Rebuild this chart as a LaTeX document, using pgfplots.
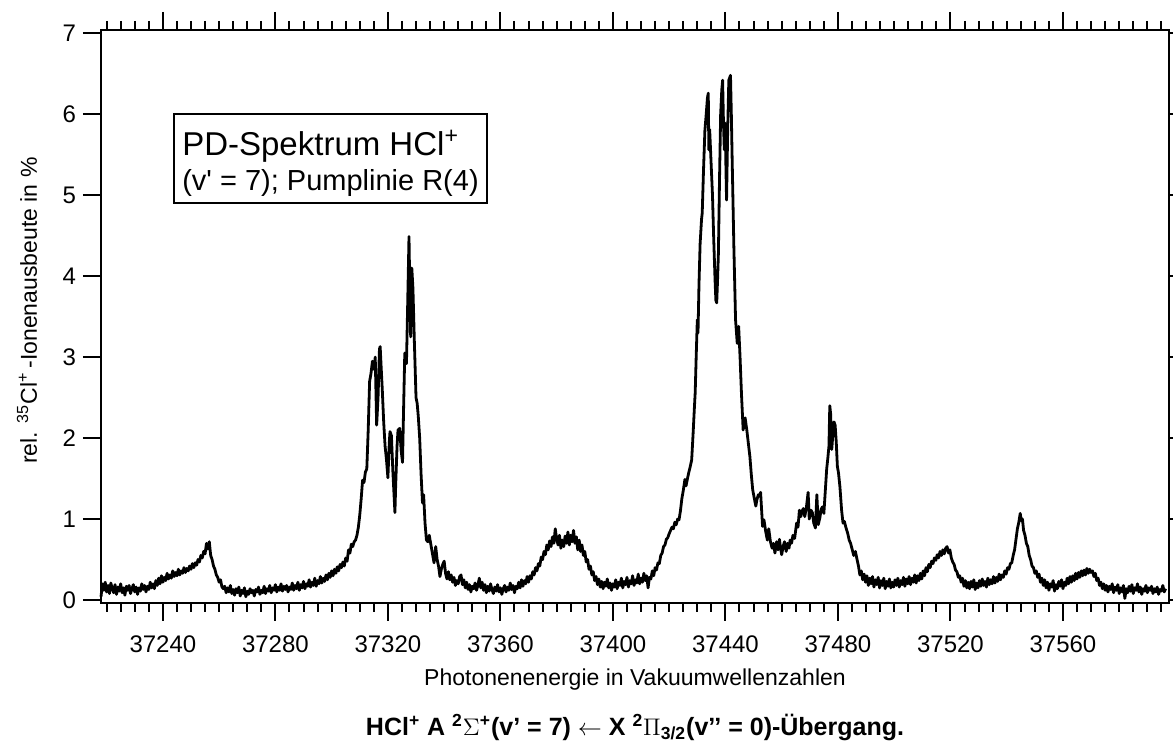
\documentclass[border=0pt]{standalone}
\usepackage{fontspec}
\setmainfont{Liberation Sans}
\usepackage{pgfplots}
\pgfplotsset{compat=1.18}
\begin{document}
\begin{tikzpicture}
\begin{axis}[
  scale only axis, width=534pt, height=286.35pt,
  xmin=37218, xmax=37597.7, ymin=-0.033, ymax=7.04,
  xtick={37240,37280,37320,37360,37400,37440,37480,37520,37560},
  xticklabels={37240,37280,37320,37360,37400,37440,37480,37520,37560},
  minor xtick={37220,37225,...,37595},
  ytick={0,1,...,7},
  scaled x ticks=false,
  tick align=outside, major tick length=9pt, minor tick length=4.5pt,
  xtick pos=both, ytick pos=both,
  xticklabel pos=lower, yticklabel pos=left,
  axis line style={line width=1pt},
  every tick/.style={black, line width=1pt},
  tick label style={font=\fontsize{12}{14}\selectfont},
  xticklabel style={yshift=-4pt},
  /pgf/number format/assume math mode=true,
  /pgf/number format/1000 sep={},
  xlabel={Photonenenergie in Vakuumwellenzahlen},
  xlabel style={at={(axis description cs:0.5,-0.144)}, anchor=base, font=\fontsize{11.5}{14}\selectfont},
  ylabel={rel. \textsuperscript{35}Cl\textsuperscript{+}\,-Ionenausbeute in \%},
  ylabel style={at={(axis description cs:-0.06,0.51)}, anchor=base, rotate=0, font=\fontsize{11.5}{14}\selectfont},
  clip=false,
]
\addplot[black, line width=1.4pt, line join=round] coordinates {
(37218.0,0.04)(37218.5,0.20)(37219.0,0.12)(37219.5,0.22)(37220.0,0.10)(37220.5,0.18)(37221.0,0.08)(37221.5,0.21)
(37222.0,0.14)(37222.5,0.09)(37223.0,0.19)(37223.5,0.07)(37224.0,0.16)(37224.5,0.11)(37225.0,0.20)(37225.5,0.09)
(37226.0,0.15)(37226.5,0.06)(37227.0,0.17)(37227.5,0.12)(37228.0,0.18)(37228.5,0.08)(37229.0,0.14)(37229.5,0.19)
(37230.0,0.10)(37230.5,0.16)(37231.0,0.07)(37231.5,0.15)(37232.0,0.11)(37232.5,0.20)(37233.0,0.13)(37233.5,0.18)
(37234.0,0.10)(37234.5,0.17)(37235.0,0.13)(37235.5,0.22)(37236.0,0.15)
(37236.5,0.20)(37237.0,0.14)(37237.5,0.24)(37238.0,0.18)(37238.5,0.27)(37239.0,0.20)(37239.5,0.30)(37240.0,0.22)
(37240.5,0.28)(37241.0,0.24)(37241.5,0.33)(37242.0,0.26)(37242.5,0.31)(37243.0,0.27)(37243.5,0.36)(37244.0,0.29)
(37244.5,0.34)(37245.0,0.30)(37245.5,0.38)(37246.0,0.31)(37246.5,0.36)(37247.0,0.33)(37247.5,0.40)(37248.0,0.34)
(37248.5,0.39)(37249.0,0.36)(37249.5,0.42)(37250.0,0.38)(37250.5,0.45)(37251.0,0.40)(37251.5,0.46)(37252.0,0.43)
(37252.5,0.50)(37253.0,0.47)(37253.5,0.55)(37254.0,0.52)(37254.5,0.60)(37255.0,0.57)(37255.5,0.70)(37256.0,0.63)
(37256.5,0.72)(37257.0,0.55)(37257.5,0.50)(37258.0,0.42)(37258.5,0.38)(37259.0,0.31)(37259.5,0.28)(37260.0,0.22)
(37260.5,0.25)(37261.0,0.16)(37261.5,0.14)
(37262.0,0.17)(37262.5,0.09)(37263.0,0.15)(37263.5,0.10)(37264.0,0.18)(37264.5,0.08)(37265.0,0.13)(37265.5,0.06)
(37266.0,0.14)(37266.5,0.09)(37267.0,0.16)(37267.5,0.05)(37268.0,0.12)(37268.5,0.08)(37269.0,0.15)(37269.5,0.04)
(37270.0,0.11)(37270.5,0.07)(37271.0,0.14)(37271.5,0.09)(37272.0,0.12)(37272.5,0.05)(37273.0,0.13)(37273.5,0.10)
(37274.0,0.16)(37274.5,0.07)(37275.0,0.12)(37275.5,0.09)(37276.0,0.17)(37276.5,0.08)(37277.0,0.14)(37277.5,0.11)
(37278.0,0.18)(37278.5,0.09)(37279.0,0.15)(37279.5,0.12)(37280.0,0.19)(37280.5,0.10)(37281.0,0.16)(37281.5,0.12)
(37282.0,0.20)(37282.5,0.11)(37283.0,0.17)(37283.5,0.13)(37284.0,0.18)(37284.5,0.10)(37285.0,0.16)(37285.5,0.13)
(37286.0,0.21)(37286.5,0.12)(37287.0,0.18)(37287.5,0.14)(37288.0,0.22)(37288.5,0.12)(37289.0,0.19)(37289.5,0.15)
(37290.0,0.23)(37290.5,0.14)(37291.0,0.20)(37291.5,0.17)(37292.0,0.25)(37292.5,0.16)(37293.0,0.22)(37293.5,0.18)
(37294.0,0.27)(37294.5,0.17)(37295.0,0.24)(37295.5,0.20)(37296.0,0.29)(37296.5,0.21)(37297.0,0.27)(37297.5,0.23)
(37298.0,0.31)(37298.5,0.25)(37299.0,0.33)(37299.5,0.28)(37300.0,0.36)(37300.5,0.30)(37301.0,0.38)(37301.5,0.33)
(37302.0,0.41)(37302.5,0.36)(37303.0,0.44)(37303.5,0.40)(37304.0,0.47)(37304.5,0.42)(37305.0,0.52)(37305.5,0.48)
(37306.0,0.62)(37306.5,0.58)(37307.0,0.69)(37307.5,0.66)(37308.0,0.72)(37308.5,0.74)(37309.0,0.80)(37309.5,0.90)
(37310.0,1.05)(37310.5,1.25)(37311.0,1.48)(37311.5,1.45)(37312.0,1.58)(37312.5,1.62)
(37313.0,2.10)(37313.5,2.70)(37314.0,2.80)(37314.5,2.95)(37315.0,2.85)(37315.5,3.00)(37316.0,2.16)(37316.5,2.50)
(37317.0,3.10)(37317.25,3.13)(37317.5,2.95)(37318.0,2.60)(37318.5,2.20)(37319.0,1.90)(37319.5,1.73)(37320.0,1.51)
(37320.5,1.95)(37320.75,2.08)(37321.25,2.03)(37321.75,1.60)(37322.25,1.25)(37322.5,1.08)(37322.75,1.40)(37323.25,1.90)
(37323.6,2.10)(37324.2,2.12)(37324.7,1.85)(37325.2,1.70)(37325.6,2.40)(37326.0,3.05)(37326.6,2.92)(37327.0,3.60)
(37327.5,4.49)(37327.8,3.80)(37328.1,3.25)(37328.5,4.10)(37328.9,3.85)(37329.4,3.20)(37330.0,2.50)(37330.4,2.43)
(37330.8,2.27)(37331.3,2.00)(37331.8,1.55)(37332.3,1.20)(37332.7,1.30)(37333.2,0.95)(37333.7,0.74)(37334.2,0.72)
(37334.7,0.80)(37335.2,0.70)(37335.8,0.58)(37336.4,0.46)(37337.0,0.66)(37337.5,0.50)(37338.0,0.42)(37338.5,0.29)
(37339.0,0.38)(37339.5,0.44)(37340.0,0.48)(37340.5,0.33)(37341.0,0.26)(37341.5,0.35)(37342.0,0.25)(37342.5,0.31)
(37343.0,0.22)(37343.5,0.28)(37344.0,0.18)(37344.5,0.24)(37345.0,0.20)(37345.5,0.29)(37346.0,0.31)(37346.5,0.19)
(37347.0,0.25)(37347.5,0.15)(37348.0,0.22)(37348.5,0.13)(37349.0,0.19)(37349.5,0.10)(37350.0,0.17)(37350.5,0.14)
(37351.0,0.21)(37351.5,0.12)(37352.0,0.18)(37352.5,0.27)
(37353.0,0.15)(37353.5,0.22)(37354.0,0.12)(37354.5,0.19)(37355.0,0.09)(37355.5,0.17)(37356.0,0.11)(37356.5,0.20)
(37357.0,0.13)(37357.5,0.08)(37358.0,0.16)(37358.5,0.11)(37359.0,0.19)(37359.5,0.10)(37360.0,0.15)(37360.5,0.07)
(37361.0,0.14)(37361.5,0.18)(37362.0,0.10)(37362.5,0.16)(37363.0,0.12)(37363.5,0.21)(37364.0,0.13)(37364.5,0.18)
(37365.0,0.09)(37365.5,0.17)(37366.0,0.14)(37366.5,0.22)(37367.0,0.15)(37367.5,0.25)(37368.0,0.17)(37368.5,0.24)
(37369.0,0.20)(37369.5,0.29)(37370.0,0.22)(37370.5,0.30)(37371.0,0.26)(37371.5,0.35)(37372.0,0.31)(37372.5,0.40)
(37373.0,0.36)(37373.5,0.45)(37374.0,0.42)(37374.5,0.53)(37375.0,0.50)(37375.5,0.60)(37376.0,0.56)(37376.5,0.68)
(37377.0,0.62)(37377.5,0.73)(37378.0,0.66)(37378.5,0.78)(37379.0,0.70)(37379.5,0.88)(37380.0,0.75)(37380.5,0.68)
(37381.0,0.80)(37381.5,0.64)(37382.0,0.74)(37382.5,0.66)(37383.0,0.79)(37383.5,0.70)(37384.0,0.84)(37384.5,0.68)
(37385.0,0.80)(37385.5,0.72)(37386.0,0.86)(37386.5,0.70)(37387.0,0.78)(37387.5,0.62)(37388.0,0.74)(37388.5,0.60)
(37389.0,0.68)(37389.5,0.55)(37390.0,0.60)(37390.5,0.47)(37391.0,0.50)(37391.5,0.38)(37392.0,0.42)(37392.5,0.31)
(37393.0,0.35)(37393.5,0.24)(37394.0,0.29)
(37394.5,0.19)(37395.0,0.26)(37395.5,0.16)(37396.0,0.23)(37396.5,0.14)(37397.0,0.22)(37397.5,0.17)(37398.0,0.26)
(37398.5,0.15)(37399.0,0.21)(37399.5,0.12)(37400.0,0.20)(37400.5,0.16)(37401.0,0.25)(37401.5,0.14)(37402.0,0.22)
(37402.5,0.18)(37403.0,0.27)(37403.5,0.15)(37404.0,0.23)(37404.5,0.19)(37405.0,0.28)(37405.5,0.16)(37406.0,0.24)
(37406.5,0.20)(37407.0,0.30)(37407.5,0.18)(37408.0,0.25)(37408.5,0.21)(37409.0,0.32)(37409.5,0.20)(37410.0,0.27)
(37410.5,0.22)(37411.0,0.33)(37411.5,0.24)(37412.0,0.30)(37412.5,0.15)(37413.0,0.28)(37413.5,0.26)(37414.0,0.36)
(37414.5,0.30)(37415.0,0.40)(37415.5,0.37)(37416.0,0.46)(37416.5,0.45)(37417.0,0.55)(37417.5,0.58)(37418.0,0.66)
(37418.5,0.68)(37419.0,0.75)(37419.5,0.77)(37420.0,0.82)(37420.5,0.86)(37421.0,0.90)(37421.5,0.88)(37422.0,0.96)
(37422.5,0.93)(37423.0,1.00)(37423.5,0.99)
(37424.0,1.10)(37424.5,1.25)(37425.0,1.35)(37425.6,1.49)(37426.0,1.41)(37426.5,1.50)(37427.0,1.58)(37427.5,1.65)
(37428.0,1.73)(37428.5,2.05)(37429.0,2.40)(37429.25,2.56)(37429.6,3.00)(37430.0,3.46)(37430.25,3.30)(37430.6,3.90)
(37431.0,4.40)(37431.5,4.70)(37431.75,4.78)(37432.2,5.30)(37432.7,5.80)(37433.1,5.97)(37433.6,6.20)(37433.9,6.26)
(37434.1,5.56)(37434.4,5.81)(37434.9,5.40)(37435.4,5.00)(37435.8,4.50)(37436.3,3.96)(37436.6,3.70)(37436.9,3.67)
(37437.2,3.95)(37437.5,4.28)(37437.9,5.20)(37438.3,6.00)(37438.7,6.30)(37439.0,6.42)(37439.3,5.90)(37439.6,5.56)
(37439.9,5.89)(37440.2,5.30)(37440.4,4.94)(37440.8,5.80)(37441.2,6.42)(37441.8,6.48)(37442.1,6.00)(37442.4,5.43)
(37443.0,4.36)(37443.6,3.46)(37444.2,3.17)(37444.7,3.38)(37445.2,3.00)(37445.7,2.55)(37446.3,2.10)(37447.0,2.25)
(37447.6,2.10)(37448.1,1.95)(37448.7,1.77)(37449.2,1.55)(37449.7,1.36)(37450.3,1.25)(37450.8,1.16)(37451.2,1.24)
(37451.7,1.30)(37452.2,1.29)(37452.5,1.33)(37453.2,0.91)(37453.7,0.99)(37454.3,0.85)(37454.9,0.74)(37455.4,0.88)
(37456.0,0.72)(37456.6,0.64)(37457.1,0.70)(37457.6,0.58)(37458.2,0.72)(37458.7,0.62)(37459.2,0.75)(37459.6,0.64)
(37460.0,0.56)(37460.5,0.66)(37461.0,0.72)(37461.6,0.60)(37462.1,0.70)(37462.6,0.64)(37463.0,0.74)(37463.5,0.70)
(37464.0,0.80)(37464.6,0.76)(37465.3,0.95)(37465.8,0.90)(37466.3,1.11)(37466.8,1.03)(37467.3,1.10)(37467.7,1.13)
(37468.2,1.03)(37468.8,1.15)(37469.4,1.33)(37469.8,1.00)(37470.4,1.11)(37470.9,1.08)(37471.4,0.95)(37472.0,0.89)
(37472.5,1.30)(37473.0,0.93)(37473.6,1.02)(37474.0,1.12)(37474.5,1.15)(37475.0,1.07)(37475.6,1.40)(37476.0,1.62)
(37476.4,1.75)(37476.8,1.90)(37477.1,2.40)(37477.4,2.30)(37477.8,1.86)(37478.2,2.05)(37478.6,2.20)(37479.0,2.16)
(37479.4,1.95)(37479.8,1.65)(37480.2,1.57)(37480.7,1.40)(37481.3,1.11)(37481.8,0.95)(37482.3,0.97)(37482.8,0.90)
(37483.5,0.82)(37484.0,0.74)(37484.5,0.70)(37485.1,0.62)(37485.6,0.55)(37486.2,0.60)(37486.8,0.50)
(37487.3,0.42)(37487.8,0.31)(37488.3,0.36)(37488.8,0.25)(37489.3,0.32)(37489.8,0.22)(37490.3,0.30)(37490.8,0.18)
(37491.3,0.27)(37491.8,0.20)(37492.3,0.29)(37492.8,0.16)(37493.3,0.25)(37493.8,0.19)(37494.3,0.28)(37494.8,0.15)
(37495.3,0.24)(37495.8,0.18)(37496.3,0.27)(37496.8,0.14)(37497.3,0.23)(37497.8,0.17)(37498.3,0.26)(37498.8,0.15)
(37499.3,0.22)(37499.8,0.16)(37500.3,0.25)(37500.8,0.18)(37501.3,0.27)(37501.8,0.16)(37502.3,0.24)(37502.8,0.19)
(37503.3,0.28)(37503.8,0.17)(37504.3,0.26)(37504.8,0.20)(37505.3,0.29)(37505.8,0.19)(37506.3,0.27)(37506.8,0.22)
(37507.3,0.31)(37507.8,0.21)(37508.3,0.30)(37508.8,0.24)(37509.3,0.33)(37509.8,0.26)(37510.3,0.36)(37510.8,0.30)
(37511.3,0.40)(37511.8,0.35)
(37512.3,0.44)(37512.8,0.40)(37513.3,0.48)(37513.8,0.45)(37514.3,0.52)(37514.8,0.49)(37515.3,0.56)(37515.8,0.52)
(37516.3,0.60)(37516.8,0.55)(37517.3,0.62)(37517.8,0.57)(37518.3,0.64)(37518.8,0.66)(37519.3,0.58)(37519.8,0.62)
(37520.3,0.52)(37520.8,0.47)(37521.3,0.44)(37521.8,0.37)(37522.3,0.35)(37522.8,0.28)(37523.3,0.30)(37523.8,0.22)
(37524.3,0.27)(37524.8,0.17)(37525.3,0.24)(37525.8,0.15)(37526.3,0.22)(37526.8,0.14)(37527.3,0.23)(37527.8,0.16)
(37528.3,0.25)(37528.8,0.13)(37529.3,0.21)(37529.8,0.15)(37530.3,0.24)(37530.8,0.17)(37531.3,0.26)(37531.8,0.18)
(37532.3,0.23)(37532.8,0.16)(37533.3,0.27)(37533.8,0.19)(37534.3,0.25)(37534.8,0.20)(37535.3,0.29)(37535.8,0.21)
(37536.3,0.28)(37536.8,0.23)(37537.3,0.32)(37537.8,0.25)(37538.3,0.31)(37538.8,0.28)(37539.3,0.36)(37539.8,0.32)
(37540.3,0.40)(37540.8,0.38)
(37541.3,0.45)(37541.8,0.46)(37542.3,0.55)(37542.8,0.62)(37543.3,0.75)(37543.8,0.88)(37544.3,0.96)(37544.8,1.07)
(37545.2,0.98)(37545.6,1.00)(37546.0,0.86)(37546.5,0.80)(37547.0,0.70)(37547.5,0.66)(37548.0,0.55)(37548.5,0.50)
(37549.0,0.42)(37549.5,0.40)(37550.0,0.33)(37550.5,0.36)(37551.0,0.28)
(37551.5,0.32)(37552.0,0.22)(37552.5,0.27)(37553.0,0.18)(37553.5,0.25)(37554.0,0.15)(37554.5,0.22)(37555.0,0.12)
(37555.5,0.20)(37556.0,0.16)(37556.5,0.24)(37557.0,0.11)(37557.5,0.19)(37558.0,0.14)(37558.5,0.23)(37559.0,0.17)
(37559.5,0.25)(37560.0,0.14)(37560.5,0.22)(37561.0,0.18)(37561.5,0.27)(37562.0,0.20)(37562.5,0.29)(37563.0,0.22)
(37563.5,0.30)(37564.0,0.24)(37564.5,0.33)(37565.0,0.26)(37565.5,0.34)(37566.0,0.28)(37566.5,0.36)(37567.0,0.30)
(37567.5,0.37)(37568.0,0.31)(37568.5,0.39)(37569.0,0.33)(37569.5,0.38)(37570.0,0.34)(37570.5,0.36)(37571.0,0.29)
(37571.5,0.33)(37572.0,0.24)(37572.5,0.27)(37573.0,0.18)(37573.5,0.22)(37574.0,0.14)(37574.5,0.20)(37575.0,0.12)
(37575.5,0.18)(37576.0,0.10)(37576.5,0.17)(37577.0,0.13)(37577.5,0.20)(37578.0,0.09)(37578.5,0.16)(37579.0,0.12)
(37579.5,0.19)(37580.0,0.08)(37580.5,0.15)(37581.0,0.10)(37581.5,0.18)(37582.0,0.02)(37582.5,0.14)(37583.0,0.09)
(37583.5,0.17)(37584.0,0.11)(37584.5,0.19)(37585.0,0.08)(37585.5,0.15)(37586.0,0.12)(37586.5,0.20)(37587.0,0.10)
(37587.5,0.16)(37588.0,0.07)(37588.5,0.14)(37589.0,0.11)(37589.5,0.18)(37590.0,0.09)(37590.5,0.15)(37591.0,0.12)
(37591.5,0.17)(37592.0,0.08)(37592.5,0.14)(37593.0,0.10)(37593.5,0.16)(37594.0,0.07)(37594.5,0.13)(37595.0,0.11)
(37595.5,0.18)(37596.0,0.10)(37596.5,0.14)
};
\node[draw, line width=1pt, fill=white, anchor=north west, align=left, inner xsep=4pt, inner ysep=3pt,
      font=\fontsize{14.5}{17.5}\selectfont] at (rel axis cs:0.0677,0.8556)
  {{\fontsize{16.5}{17.5}\selectfont\rule{0pt}{18pt}PD-Spektrum HCl\textsuperscript{+}}\\\rule[-3.35pt]{0pt}{3.35pt}(v\textquotesingle{} = 7); Pumplinie R(4)};
\node[anchor=base, font=\bfseries\fontsize{12.5}{14}\selectfont] at (rel axis cs:0.5,-0.232)
  {HCl\textsuperscript{+} A \textsuperscript{2}$\Sigma$\textsuperscript{+}(v’ = 7) $\leftarrow$ X \textsuperscript{2}$\Pi$\textsubscript{3/2}(v’’ = 0)-Übergang.};
\coordinate (bl) at (rel axis cs:0,0);
\end{axis}
\pgfresetboundingbox
\path (bl) ++(-50.5pt,-73.15pt) rectangle ++(586.5pt,374.5pt);
\end{tikzpicture}
\end{document}
